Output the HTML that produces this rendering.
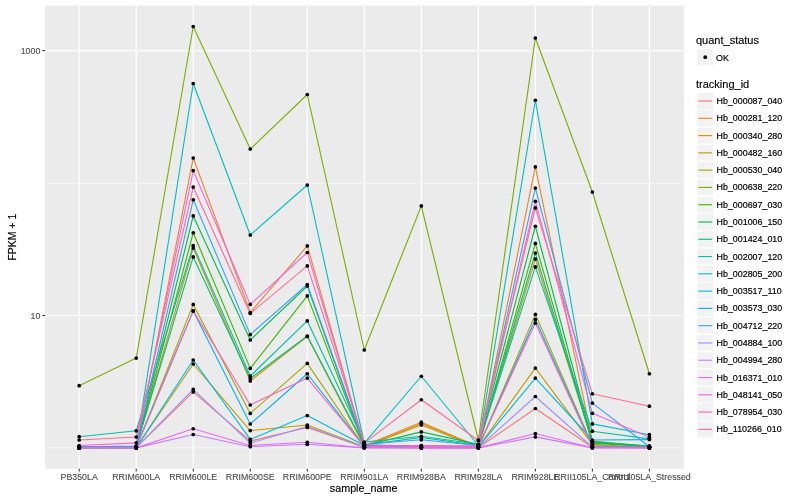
<!DOCTYPE html>
<html><head><meta charset="utf-8"><title>plot</title>
<style>html,body{margin:0;padding:0;background:#fff;}svg{display:block;opacity:0.999;will-change:transform;}text{font-family:"Liberation Sans",sans-serif;}</style></head><body>
<svg width="800" height="500" viewBox="0 0 800 500">
<rect x="0" y="0" width="800" height="500" fill="#FFFFFF"/>
<rect x="45.15" y="5.55" width="638.65" height="463.20" fill="#EBEBEB"/>
<line x1="45.15" x2="683.8" y1="183.25" y2="183.25" stroke="#FFFFFF" stroke-opacity="0.9" stroke-width="0.62"/>
<line x1="45.15" x2="683.8" y1="447.85" y2="447.85" stroke="#FFFFFF" stroke-opacity="0.9" stroke-width="0.62"/>
<line x1="45.15" x2="683.8" y1="50.6" y2="50.6" stroke="#FFFFFF" stroke-width="1.2"/>
<line x1="45.15" x2="683.8" y1="315.5" y2="315.5" stroke="#FFFFFF" stroke-width="1.2"/>
<line x1="79.20" x2="79.20" y1="5.55" y2="468.75" stroke="#FFFFFF" stroke-width="1.2"/>
<line x1="136.22" x2="136.22" y1="5.55" y2="468.75" stroke="#FFFFFF" stroke-width="1.2"/>
<line x1="193.24" x2="193.24" y1="5.55" y2="468.75" stroke="#FFFFFF" stroke-width="1.2"/>
<line x1="250.26" x2="250.26" y1="5.55" y2="468.75" stroke="#FFFFFF" stroke-width="1.2"/>
<line x1="307.28" x2="307.28" y1="5.55" y2="468.75" stroke="#FFFFFF" stroke-width="1.2"/>
<line x1="364.30" x2="364.30" y1="5.55" y2="468.75" stroke="#FFFFFF" stroke-width="1.2"/>
<line x1="421.32" x2="421.32" y1="5.55" y2="468.75" stroke="#FFFFFF" stroke-width="1.2"/>
<line x1="478.34" x2="478.34" y1="5.55" y2="468.75" stroke="#FFFFFF" stroke-width="1.2"/>
<line x1="535.36" x2="535.36" y1="5.55" y2="468.75" stroke="#FFFFFF" stroke-width="1.2"/>
<line x1="592.38" x2="592.38" y1="5.55" y2="468.75" stroke="#FFFFFF" stroke-width="1.2"/>
<line x1="649.40" x2="649.40" y1="5.55" y2="468.75" stroke="#FFFFFF" stroke-width="1.2"/>
<g fill="none" stroke-width="1.12" stroke-linejoin="round" stroke-linecap="butt">
<polyline points="79.20,447.90 136.22,447.70 193.24,391.90 250.26,441.00 307.28,427.50 364.30,447.20 421.32,447.70 478.34,447.70 535.36,408.50 592.38,447.20 649.40,447.70" stroke="#F8766D"/>
<polyline points="79.20,447.20 136.22,446.70 193.24,158.00 250.26,312.50 307.28,245.90 364.30,445.50 421.32,422.20 478.34,446.70 535.36,166.90 592.38,441.00 649.40,446.70" stroke="#EA8331"/>
<polyline points="79.20,447.70 136.22,447.20 193.24,248.10 250.26,381.00 307.28,336.50 364.30,446.70 421.32,423.60 478.34,446.70 535.36,259.10 592.38,442.00 649.40,447.20" stroke="#D89000"/>
<polyline points="79.20,447.70 136.22,447.70 193.24,364.00 250.26,430.60 307.28,425.00 364.30,446.70 421.32,425.00 478.34,447.20 535.36,368.10 592.38,444.30 649.40,447.70" stroke="#C09B00"/>
<polyline points="79.20,447.70 136.22,447.70 193.24,304.40 250.26,413.40 307.28,363.40 364.30,447.20 421.32,447.20 478.34,447.70 535.36,314.40 592.38,445.50 649.40,447.70" stroke="#A3A500"/>
<polyline points="79.20,385.70 136.22,358.10 193.24,26.50 250.26,149.00 307.28,94.50 364.30,350.00 421.32,205.90 478.34,440.00 535.36,38.00 592.38,192.00 649.40,373.75" stroke="#7CAE00"/>
<polyline points="79.20,447.70 136.22,447.70 193.24,232.75 250.26,368.40 307.28,295.90 364.30,446.10 421.32,445.50 478.34,446.70 535.36,243.40 592.38,443.10 649.40,446.70" stroke="#39B600"/>
<polyline points="79.20,447.70 136.22,447.20 193.24,215.90 250.26,340.00 307.28,286.00 364.30,445.50 421.32,431.90 478.34,444.30 535.36,226.25 592.38,441.50 649.40,446.10" stroke="#00BB4E"/>
<polyline points="79.20,447.20 136.22,446.70 193.24,256.90 250.26,378.50 307.28,336.00 364.30,444.90 421.32,437.50 478.34,445.50 535.36,253.10 592.38,442.50 649.40,446.10" stroke="#00BF7D"/>
<polyline points="79.20,436.70 136.22,430.80 193.24,245.60 250.26,376.00 307.28,320.90 364.30,442.00 421.32,436.25 478.34,444.30 535.36,266.90 592.38,431.20 649.40,438.90" stroke="#00C1A3"/>
<polyline points="79.20,446.70 136.22,446.70 193.24,83.50 250.26,235.00 307.28,185.00 364.30,443.10 421.32,376.25 478.34,445.50 535.36,100.25 592.38,423.90 649.40,434.70" stroke="#00BFC4"/>
<polyline points="79.20,447.70 136.22,447.70 193.24,360.00 250.26,439.40 307.28,415.60 364.30,445.50 421.32,447.20 478.34,447.20 535.36,378.10 592.38,440.00 649.40,439.60" stroke="#00BAE0"/>
<polyline points="79.20,447.20 136.22,447.20 193.24,310.90 250.26,424.00 307.28,373.75 364.30,446.70 421.32,446.70 478.34,447.20 535.36,319.40 592.38,446.10 649.40,447.20" stroke="#00B0F6"/>
<polyline points="79.20,446.70 136.22,446.10 193.24,199.75 250.26,334.60 307.28,284.50 364.30,444.30 421.32,439.80 478.34,445.50 535.36,188.10 592.38,403.10 649.40,446.70" stroke="#35A2FF"/>
<polyline points="79.20,447.70 136.22,447.70 193.24,389.40 250.26,443.10 307.28,426.50 364.30,447.20 421.32,447.70 478.34,447.70 535.36,396.50 592.38,447.20 649.40,447.70" stroke="#9590FF"/>
<polyline points="79.20,447.90 136.22,447.90 193.24,434.50 250.26,446.70 307.28,444.30 364.30,447.90 421.32,447.90 478.34,447.90 535.36,436.90 592.38,447.90 649.40,447.90" stroke="#C77CFF"/>
<polyline points="79.20,447.90 136.22,447.90 193.24,428.75 250.26,445.50 307.28,442.25 364.30,447.70 421.32,447.90 478.34,447.90 535.36,433.50 592.38,447.70 649.40,447.90" stroke="#E76BF3"/>
<polyline points="79.20,445.50 136.22,442.86 193.24,170.60 250.26,304.40 307.28,252.50 364.30,444.30 421.32,446.70 478.34,445.50 535.36,201.25 592.38,413.30 649.40,437.30" stroke="#FA62DB"/>
<polyline points="79.20,447.70 136.22,447.20 193.24,310.90 250.26,405.00 307.28,378.10 364.30,446.70 421.32,445.50 478.34,446.70 535.36,323.10 592.38,446.70 649.40,447.20" stroke="#FF62BC"/>
<polyline points="79.20,440.00 136.22,437.00 193.24,187.10 250.26,313.50 307.28,265.90 364.30,443.10 421.32,399.75 478.34,440.50 535.36,207.90 592.38,393.80 649.40,406.20" stroke="#FF6A98"/>
</g>
<g fill="#000000">
<circle cx="79.20" cy="447.90" r="1.85"/>
<circle cx="136.22" cy="447.70" r="1.85"/>
<circle cx="193.24" cy="391.90" r="1.85"/>
<circle cx="250.26" cy="441.00" r="1.85"/>
<circle cx="307.28" cy="427.50" r="1.85"/>
<circle cx="364.30" cy="447.20" r="1.85"/>
<circle cx="421.32" cy="447.70" r="1.85"/>
<circle cx="478.34" cy="447.70" r="1.85"/>
<circle cx="535.36" cy="408.50" r="1.85"/>
<circle cx="592.38" cy="447.20" r="1.85"/>
<circle cx="649.40" cy="447.70" r="1.85"/>
<circle cx="79.20" cy="447.20" r="1.85"/>
<circle cx="136.22" cy="446.70" r="1.85"/>
<circle cx="193.24" cy="158.00" r="1.85"/>
<circle cx="250.26" cy="312.50" r="1.85"/>
<circle cx="307.28" cy="245.90" r="1.85"/>
<circle cx="364.30" cy="445.50" r="1.85"/>
<circle cx="421.32" cy="422.20" r="1.85"/>
<circle cx="478.34" cy="446.70" r="1.85"/>
<circle cx="535.36" cy="166.90" r="1.85"/>
<circle cx="592.38" cy="441.00" r="1.85"/>
<circle cx="649.40" cy="446.70" r="1.85"/>
<circle cx="79.20" cy="447.70" r="1.85"/>
<circle cx="136.22" cy="447.20" r="1.85"/>
<circle cx="193.24" cy="248.10" r="1.85"/>
<circle cx="250.26" cy="381.00" r="1.85"/>
<circle cx="307.28" cy="336.50" r="1.85"/>
<circle cx="364.30" cy="446.70" r="1.85"/>
<circle cx="421.32" cy="423.60" r="1.85"/>
<circle cx="478.34" cy="446.70" r="1.85"/>
<circle cx="535.36" cy="259.10" r="1.85"/>
<circle cx="592.38" cy="442.00" r="1.85"/>
<circle cx="649.40" cy="447.20" r="1.85"/>
<circle cx="79.20" cy="447.70" r="1.85"/>
<circle cx="136.22" cy="447.70" r="1.85"/>
<circle cx="193.24" cy="364.00" r="1.85"/>
<circle cx="250.26" cy="430.60" r="1.85"/>
<circle cx="307.28" cy="425.00" r="1.85"/>
<circle cx="364.30" cy="446.70" r="1.85"/>
<circle cx="421.32" cy="425.00" r="1.85"/>
<circle cx="478.34" cy="447.20" r="1.85"/>
<circle cx="535.36" cy="368.10" r="1.85"/>
<circle cx="592.38" cy="444.30" r="1.85"/>
<circle cx="649.40" cy="447.70" r="1.85"/>
<circle cx="79.20" cy="447.70" r="1.85"/>
<circle cx="136.22" cy="447.70" r="1.85"/>
<circle cx="193.24" cy="304.40" r="1.85"/>
<circle cx="250.26" cy="413.40" r="1.85"/>
<circle cx="307.28" cy="363.40" r="1.85"/>
<circle cx="364.30" cy="447.20" r="1.85"/>
<circle cx="421.32" cy="447.20" r="1.85"/>
<circle cx="478.34" cy="447.70" r="1.85"/>
<circle cx="535.36" cy="314.40" r="1.85"/>
<circle cx="592.38" cy="445.50" r="1.85"/>
<circle cx="649.40" cy="447.70" r="1.85"/>
<circle cx="79.20" cy="385.70" r="1.85"/>
<circle cx="136.22" cy="358.10" r="1.85"/>
<circle cx="193.24" cy="26.50" r="1.85"/>
<circle cx="250.26" cy="149.00" r="1.85"/>
<circle cx="307.28" cy="94.50" r="1.85"/>
<circle cx="364.30" cy="350.00" r="1.85"/>
<circle cx="421.32" cy="205.90" r="1.85"/>
<circle cx="478.34" cy="440.00" r="1.85"/>
<circle cx="535.36" cy="38.00" r="1.85"/>
<circle cx="592.38" cy="192.00" r="1.85"/>
<circle cx="649.40" cy="373.75" r="1.85"/>
<circle cx="79.20" cy="447.70" r="1.85"/>
<circle cx="136.22" cy="447.70" r="1.85"/>
<circle cx="193.24" cy="232.75" r="1.85"/>
<circle cx="250.26" cy="368.40" r="1.85"/>
<circle cx="307.28" cy="295.90" r="1.85"/>
<circle cx="364.30" cy="446.10" r="1.85"/>
<circle cx="421.32" cy="445.50" r="1.85"/>
<circle cx="478.34" cy="446.70" r="1.85"/>
<circle cx="535.36" cy="243.40" r="1.85"/>
<circle cx="592.38" cy="443.10" r="1.85"/>
<circle cx="649.40" cy="446.70" r="1.85"/>
<circle cx="79.20" cy="447.70" r="1.85"/>
<circle cx="136.22" cy="447.20" r="1.85"/>
<circle cx="193.24" cy="215.90" r="1.85"/>
<circle cx="250.26" cy="340.00" r="1.85"/>
<circle cx="307.28" cy="286.00" r="1.85"/>
<circle cx="364.30" cy="445.50" r="1.85"/>
<circle cx="421.32" cy="431.90" r="1.85"/>
<circle cx="478.34" cy="444.30" r="1.85"/>
<circle cx="535.36" cy="226.25" r="1.85"/>
<circle cx="592.38" cy="441.50" r="1.85"/>
<circle cx="649.40" cy="446.10" r="1.85"/>
<circle cx="79.20" cy="447.20" r="1.85"/>
<circle cx="136.22" cy="446.70" r="1.85"/>
<circle cx="193.24" cy="256.90" r="1.85"/>
<circle cx="250.26" cy="378.50" r="1.85"/>
<circle cx="307.28" cy="336.00" r="1.85"/>
<circle cx="364.30" cy="444.90" r="1.85"/>
<circle cx="421.32" cy="437.50" r="1.85"/>
<circle cx="478.34" cy="445.50" r="1.85"/>
<circle cx="535.36" cy="253.10" r="1.85"/>
<circle cx="592.38" cy="442.50" r="1.85"/>
<circle cx="649.40" cy="446.10" r="1.85"/>
<circle cx="79.20" cy="436.70" r="1.85"/>
<circle cx="136.22" cy="430.80" r="1.85"/>
<circle cx="193.24" cy="245.60" r="1.85"/>
<circle cx="250.26" cy="376.00" r="1.85"/>
<circle cx="307.28" cy="320.90" r="1.85"/>
<circle cx="364.30" cy="442.00" r="1.85"/>
<circle cx="421.32" cy="436.25" r="1.85"/>
<circle cx="478.34" cy="444.30" r="1.85"/>
<circle cx="535.36" cy="266.90" r="1.85"/>
<circle cx="592.38" cy="431.20" r="1.85"/>
<circle cx="649.40" cy="438.90" r="1.85"/>
<circle cx="79.20" cy="446.70" r="1.85"/>
<circle cx="136.22" cy="446.70" r="1.85"/>
<circle cx="193.24" cy="83.50" r="1.85"/>
<circle cx="250.26" cy="235.00" r="1.85"/>
<circle cx="307.28" cy="185.00" r="1.85"/>
<circle cx="364.30" cy="443.10" r="1.85"/>
<circle cx="421.32" cy="376.25" r="1.85"/>
<circle cx="478.34" cy="445.50" r="1.85"/>
<circle cx="535.36" cy="100.25" r="1.85"/>
<circle cx="592.38" cy="423.90" r="1.85"/>
<circle cx="649.40" cy="434.70" r="1.85"/>
<circle cx="79.20" cy="447.70" r="1.85"/>
<circle cx="136.22" cy="447.70" r="1.85"/>
<circle cx="193.24" cy="360.00" r="1.85"/>
<circle cx="250.26" cy="439.40" r="1.85"/>
<circle cx="307.28" cy="415.60" r="1.85"/>
<circle cx="364.30" cy="445.50" r="1.85"/>
<circle cx="421.32" cy="447.20" r="1.85"/>
<circle cx="478.34" cy="447.20" r="1.85"/>
<circle cx="535.36" cy="378.10" r="1.85"/>
<circle cx="592.38" cy="440.00" r="1.85"/>
<circle cx="649.40" cy="439.60" r="1.85"/>
<circle cx="79.20" cy="447.20" r="1.85"/>
<circle cx="136.22" cy="447.20" r="1.85"/>
<circle cx="193.24" cy="310.90" r="1.85"/>
<circle cx="250.26" cy="424.00" r="1.85"/>
<circle cx="307.28" cy="373.75" r="1.85"/>
<circle cx="364.30" cy="446.70" r="1.85"/>
<circle cx="421.32" cy="446.70" r="1.85"/>
<circle cx="478.34" cy="447.20" r="1.85"/>
<circle cx="535.36" cy="319.40" r="1.85"/>
<circle cx="592.38" cy="446.10" r="1.85"/>
<circle cx="649.40" cy="447.20" r="1.85"/>
<circle cx="79.20" cy="446.70" r="1.85"/>
<circle cx="136.22" cy="446.10" r="1.85"/>
<circle cx="193.24" cy="199.75" r="1.85"/>
<circle cx="250.26" cy="334.60" r="1.85"/>
<circle cx="307.28" cy="284.50" r="1.85"/>
<circle cx="364.30" cy="444.30" r="1.85"/>
<circle cx="421.32" cy="439.80" r="1.85"/>
<circle cx="478.34" cy="445.50" r="1.85"/>
<circle cx="535.36" cy="188.10" r="1.85"/>
<circle cx="592.38" cy="403.10" r="1.85"/>
<circle cx="649.40" cy="446.70" r="1.85"/>
<circle cx="79.20" cy="447.70" r="1.85"/>
<circle cx="136.22" cy="447.70" r="1.85"/>
<circle cx="193.24" cy="389.40" r="1.85"/>
<circle cx="250.26" cy="443.10" r="1.85"/>
<circle cx="307.28" cy="426.50" r="1.85"/>
<circle cx="364.30" cy="447.20" r="1.85"/>
<circle cx="421.32" cy="447.70" r="1.85"/>
<circle cx="478.34" cy="447.70" r="1.85"/>
<circle cx="535.36" cy="396.50" r="1.85"/>
<circle cx="592.38" cy="447.20" r="1.85"/>
<circle cx="649.40" cy="447.70" r="1.85"/>
<circle cx="79.20" cy="447.90" r="1.85"/>
<circle cx="136.22" cy="447.90" r="1.85"/>
<circle cx="193.24" cy="434.50" r="1.85"/>
<circle cx="250.26" cy="446.70" r="1.85"/>
<circle cx="307.28" cy="444.30" r="1.85"/>
<circle cx="364.30" cy="447.90" r="1.85"/>
<circle cx="421.32" cy="447.90" r="1.85"/>
<circle cx="478.34" cy="447.90" r="1.85"/>
<circle cx="535.36" cy="436.90" r="1.85"/>
<circle cx="592.38" cy="447.90" r="1.85"/>
<circle cx="649.40" cy="447.90" r="1.85"/>
<circle cx="79.20" cy="447.90" r="1.85"/>
<circle cx="136.22" cy="447.90" r="1.85"/>
<circle cx="193.24" cy="428.75" r="1.85"/>
<circle cx="250.26" cy="445.50" r="1.85"/>
<circle cx="307.28" cy="442.25" r="1.85"/>
<circle cx="364.30" cy="447.70" r="1.85"/>
<circle cx="421.32" cy="447.90" r="1.85"/>
<circle cx="478.34" cy="447.90" r="1.85"/>
<circle cx="535.36" cy="433.50" r="1.85"/>
<circle cx="592.38" cy="447.70" r="1.85"/>
<circle cx="649.40" cy="447.90" r="1.85"/>
<circle cx="79.20" cy="445.50" r="1.85"/>
<circle cx="136.22" cy="442.86" r="1.85"/>
<circle cx="193.24" cy="170.60" r="1.85"/>
<circle cx="250.26" cy="304.40" r="1.85"/>
<circle cx="307.28" cy="252.50" r="1.85"/>
<circle cx="364.30" cy="444.30" r="1.85"/>
<circle cx="421.32" cy="446.70" r="1.85"/>
<circle cx="478.34" cy="445.50" r="1.85"/>
<circle cx="535.36" cy="201.25" r="1.85"/>
<circle cx="592.38" cy="413.30" r="1.85"/>
<circle cx="649.40" cy="437.30" r="1.85"/>
<circle cx="79.20" cy="447.70" r="1.85"/>
<circle cx="136.22" cy="447.20" r="1.85"/>
<circle cx="193.24" cy="310.90" r="1.85"/>
<circle cx="250.26" cy="405.00" r="1.85"/>
<circle cx="307.28" cy="378.10" r="1.85"/>
<circle cx="364.30" cy="446.70" r="1.85"/>
<circle cx="421.32" cy="445.50" r="1.85"/>
<circle cx="478.34" cy="446.70" r="1.85"/>
<circle cx="535.36" cy="323.10" r="1.85"/>
<circle cx="592.38" cy="446.70" r="1.85"/>
<circle cx="649.40" cy="447.20" r="1.85"/>
<circle cx="79.20" cy="440.00" r="1.85"/>
<circle cx="136.22" cy="437.00" r="1.85"/>
<circle cx="193.24" cy="187.10" r="1.85"/>
<circle cx="250.26" cy="313.50" r="1.85"/>
<circle cx="307.28" cy="265.90" r="1.85"/>
<circle cx="364.30" cy="443.10" r="1.85"/>
<circle cx="421.32" cy="399.75" r="1.85"/>
<circle cx="478.34" cy="440.50" r="1.85"/>
<circle cx="535.36" cy="207.90" r="1.85"/>
<circle cx="592.38" cy="393.80" r="1.85"/>
<circle cx="649.40" cy="406.20" r="1.85"/>
</g>
<g stroke="#333333" stroke-width="1.07">
<line x1="42.4" x2="45.15" y1="50.6" y2="50.6"/>
<line x1="42.4" x2="45.15" y1="315.5" y2="315.5"/>
<line x1="79.20" x2="79.20" y1="468.75" y2="471.5"/>
<line x1="136.22" x2="136.22" y1="468.75" y2="471.5"/>
<line x1="193.24" x2="193.24" y1="468.75" y2="471.5"/>
<line x1="250.26" x2="250.26" y1="468.75" y2="471.5"/>
<line x1="307.28" x2="307.28" y1="468.75" y2="471.5"/>
<line x1="364.30" x2="364.30" y1="468.75" y2="471.5"/>
<line x1="421.32" x2="421.32" y1="468.75" y2="471.5"/>
<line x1="478.34" x2="478.34" y1="468.75" y2="471.5"/>
<line x1="535.36" x2="535.36" y1="468.75" y2="471.5"/>
<line x1="592.38" x2="592.38" y1="468.75" y2="471.5"/>
<line x1="649.40" x2="649.40" y1="468.75" y2="471.5"/>
</g>
<g font-size="8.8" fill="#4D4D4D" stroke="#4D4D4D" stroke-width="0.12">
<text x="40.3" y="53.8" text-anchor="end">1000</text>
<text x="40.3" y="319.0" text-anchor="end">10</text>
<text x="79.20" y="479.7" text-anchor="middle">PB350LA</text>
<text x="136.22" y="479.7" text-anchor="middle">RRIM600LA</text>
<text x="193.24" y="479.7" text-anchor="middle">RRIM600LE</text>
<text x="250.26" y="479.7" text-anchor="middle">RRIM600SE</text>
<text x="307.28" y="479.7" text-anchor="middle">RRIM600PE</text>
<text x="364.30" y="479.7" text-anchor="middle">RRIM901LA</text>
<text x="421.32" y="479.7" text-anchor="middle">RRIM928BA</text>
<text x="478.34" y="479.7" text-anchor="middle">RRIM928LA</text>
<text x="535.36" y="479.7" text-anchor="middle">RRIM928LE</text>
<text x="592.38" y="479.7" text-anchor="middle">RRII105LA_Control</text>
<text x="649.40" y="479.7" text-anchor="middle">RRII105LA_Stressed</text>
</g>
<text x="363.6" y="491.9" font-size="11" text-anchor="middle" textLength="67.6" lengthAdjust="spacingAndGlyphs" fill="#000" stroke="#000" stroke-width="0.15">sample_name</text>
<text transform="translate(16.2,237.2) rotate(-90)" font-size="11" text-anchor="middle" textLength="46.8" lengthAdjust="spacingAndGlyphs" fill="#000" stroke="#000" stroke-width="0.15">FPKM + 1</text>
<text x="696.0" y="43.7" font-size="11" fill="#000" stroke="#000" stroke-width="0.15">quant_status</text>
<rect x="697.2" y="49.2" width="16.0" height="15.95" fill="#F2F2F2"/>
<circle cx="705.24" cy="57.2" r="1.85" fill="#000"/>
<text x="716.0" y="60.5" font-size="8.88" fill="#000" stroke="#000" stroke-width="0.18">OK</text>
<text x="696.0" y="87.7" font-size="11" fill="#000" stroke="#000" stroke-width="0.15">tracking_id</text>
<rect x="697.2" y="93.00" width="16.0" height="15.95" fill="#F2F2F2"/>
<line x1="698.33" x2="712.15" y1="101.04" y2="101.04" stroke="#F8766D" stroke-width="1.12"/>
<text x="716.6" y="104.04" font-size="8.88" fill="#000" stroke="#000" stroke-width="0.18">Hb_000087_040</text>
<rect x="697.2" y="110.28" width="16.0" height="15.95" fill="#F2F2F2"/>
<line x1="698.33" x2="712.15" y1="118.32" y2="118.32" stroke="#EA8331" stroke-width="1.12"/>
<text x="716.6" y="121.32" font-size="8.88" fill="#000" stroke="#000" stroke-width="0.18">Hb_000281_120</text>
<rect x="697.2" y="127.56" width="16.0" height="15.95" fill="#F2F2F2"/>
<line x1="698.33" x2="712.15" y1="135.60" y2="135.60" stroke="#D89000" stroke-width="1.12"/>
<text x="716.6" y="138.60" font-size="8.88" fill="#000" stroke="#000" stroke-width="0.18">Hb_000340_280</text>
<rect x="697.2" y="144.84" width="16.0" height="15.95" fill="#F2F2F2"/>
<line x1="698.33" x2="712.15" y1="152.88" y2="152.88" stroke="#C09B00" stroke-width="1.12"/>
<text x="716.6" y="155.88" font-size="8.88" fill="#000" stroke="#000" stroke-width="0.18">Hb_000482_160</text>
<rect x="697.2" y="162.12" width="16.0" height="15.95" fill="#F2F2F2"/>
<line x1="698.33" x2="712.15" y1="170.16" y2="170.16" stroke="#A3A500" stroke-width="1.12"/>
<text x="716.6" y="173.16" font-size="8.88" fill="#000" stroke="#000" stroke-width="0.18">Hb_000530_040</text>
<rect x="697.2" y="179.40" width="16.0" height="15.95" fill="#F2F2F2"/>
<line x1="698.33" x2="712.15" y1="187.44" y2="187.44" stroke="#7CAE00" stroke-width="1.12"/>
<text x="716.6" y="190.44" font-size="8.88" fill="#000" stroke="#000" stroke-width="0.18">Hb_000638_220</text>
<rect x="697.2" y="196.68" width="16.0" height="15.95" fill="#F2F2F2"/>
<line x1="698.33" x2="712.15" y1="204.72" y2="204.72" stroke="#39B600" stroke-width="1.12"/>
<text x="716.6" y="207.72" font-size="8.88" fill="#000" stroke="#000" stroke-width="0.18">Hb_000697_030</text>
<rect x="697.2" y="213.96" width="16.0" height="15.95" fill="#F2F2F2"/>
<line x1="698.33" x2="712.15" y1="222.00" y2="222.00" stroke="#00BB4E" stroke-width="1.12"/>
<text x="716.6" y="225.00" font-size="8.88" fill="#000" stroke="#000" stroke-width="0.18">Hb_001006_150</text>
<rect x="697.2" y="231.24" width="16.0" height="15.95" fill="#F2F2F2"/>
<line x1="698.33" x2="712.15" y1="239.28" y2="239.28" stroke="#00BF7D" stroke-width="1.12"/>
<text x="716.6" y="242.28" font-size="8.88" fill="#000" stroke="#000" stroke-width="0.18">Hb_001424_010</text>
<rect x="697.2" y="248.52" width="16.0" height="15.95" fill="#F2F2F2"/>
<line x1="698.33" x2="712.15" y1="256.56" y2="256.56" stroke="#00C1A3" stroke-width="1.12"/>
<text x="716.6" y="259.56" font-size="8.88" fill="#000" stroke="#000" stroke-width="0.18">Hb_002007_120</text>
<rect x="697.2" y="265.80" width="16.0" height="15.95" fill="#F2F2F2"/>
<line x1="698.33" x2="712.15" y1="273.84" y2="273.84" stroke="#00BFC4" stroke-width="1.12"/>
<text x="716.6" y="276.84" font-size="8.88" fill="#000" stroke="#000" stroke-width="0.18">Hb_002805_200</text>
<rect x="697.2" y="283.08" width="16.0" height="15.95" fill="#F2F2F2"/>
<line x1="698.33" x2="712.15" y1="291.12" y2="291.12" stroke="#00BAE0" stroke-width="1.12"/>
<text x="716.6" y="294.12" font-size="8.88" fill="#000" stroke="#000" stroke-width="0.18">Hb_003517_110</text>
<rect x="697.2" y="300.36" width="16.0" height="15.95" fill="#F2F2F2"/>
<line x1="698.33" x2="712.15" y1="308.40" y2="308.40" stroke="#00B0F6" stroke-width="1.12"/>
<text x="716.6" y="311.40" font-size="8.88" fill="#000" stroke="#000" stroke-width="0.18">Hb_003573_030</text>
<rect x="697.2" y="317.64" width="16.0" height="15.95" fill="#F2F2F2"/>
<line x1="698.33" x2="712.15" y1="325.68" y2="325.68" stroke="#35A2FF" stroke-width="1.12"/>
<text x="716.6" y="328.68" font-size="8.88" fill="#000" stroke="#000" stroke-width="0.18">Hb_004712_220</text>
<rect x="697.2" y="334.92" width="16.0" height="15.95" fill="#F2F2F2"/>
<line x1="698.33" x2="712.15" y1="342.96" y2="342.96" stroke="#9590FF" stroke-width="1.12"/>
<text x="716.6" y="345.96" font-size="8.88" fill="#000" stroke="#000" stroke-width="0.18">Hb_004884_100</text>
<rect x="697.2" y="352.20" width="16.0" height="15.95" fill="#F2F2F2"/>
<line x1="698.33" x2="712.15" y1="360.24" y2="360.24" stroke="#C77CFF" stroke-width="1.12"/>
<text x="716.6" y="363.24" font-size="8.88" fill="#000" stroke="#000" stroke-width="0.18">Hb_004994_280</text>
<rect x="697.2" y="369.48" width="16.0" height="15.95" fill="#F2F2F2"/>
<line x1="698.33" x2="712.15" y1="377.52" y2="377.52" stroke="#E76BF3" stroke-width="1.12"/>
<text x="716.6" y="380.52" font-size="8.88" fill="#000" stroke="#000" stroke-width="0.18">Hb_016371_010</text>
<rect x="697.2" y="386.76" width="16.0" height="15.95" fill="#F2F2F2"/>
<line x1="698.33" x2="712.15" y1="394.80" y2="394.80" stroke="#FA62DB" stroke-width="1.12"/>
<text x="716.6" y="397.80" font-size="8.88" fill="#000" stroke="#000" stroke-width="0.18">Hb_048141_050</text>
<rect x="697.2" y="404.04" width="16.0" height="15.95" fill="#F2F2F2"/>
<line x1="698.33" x2="712.15" y1="412.08" y2="412.08" stroke="#FF62BC" stroke-width="1.12"/>
<text x="716.6" y="415.08" font-size="8.88" fill="#000" stroke="#000" stroke-width="0.18">Hb_078954_030</text>
<rect x="697.2" y="421.32" width="16.0" height="15.95" fill="#F2F2F2"/>
<line x1="698.33" x2="712.15" y1="429.36" y2="429.36" stroke="#FF6A98" stroke-width="1.12"/>
<text x="716.6" y="432.36" font-size="8.88" fill="#000" stroke="#000" stroke-width="0.18">Hb_110266_010</text>
</svg></body></html>
